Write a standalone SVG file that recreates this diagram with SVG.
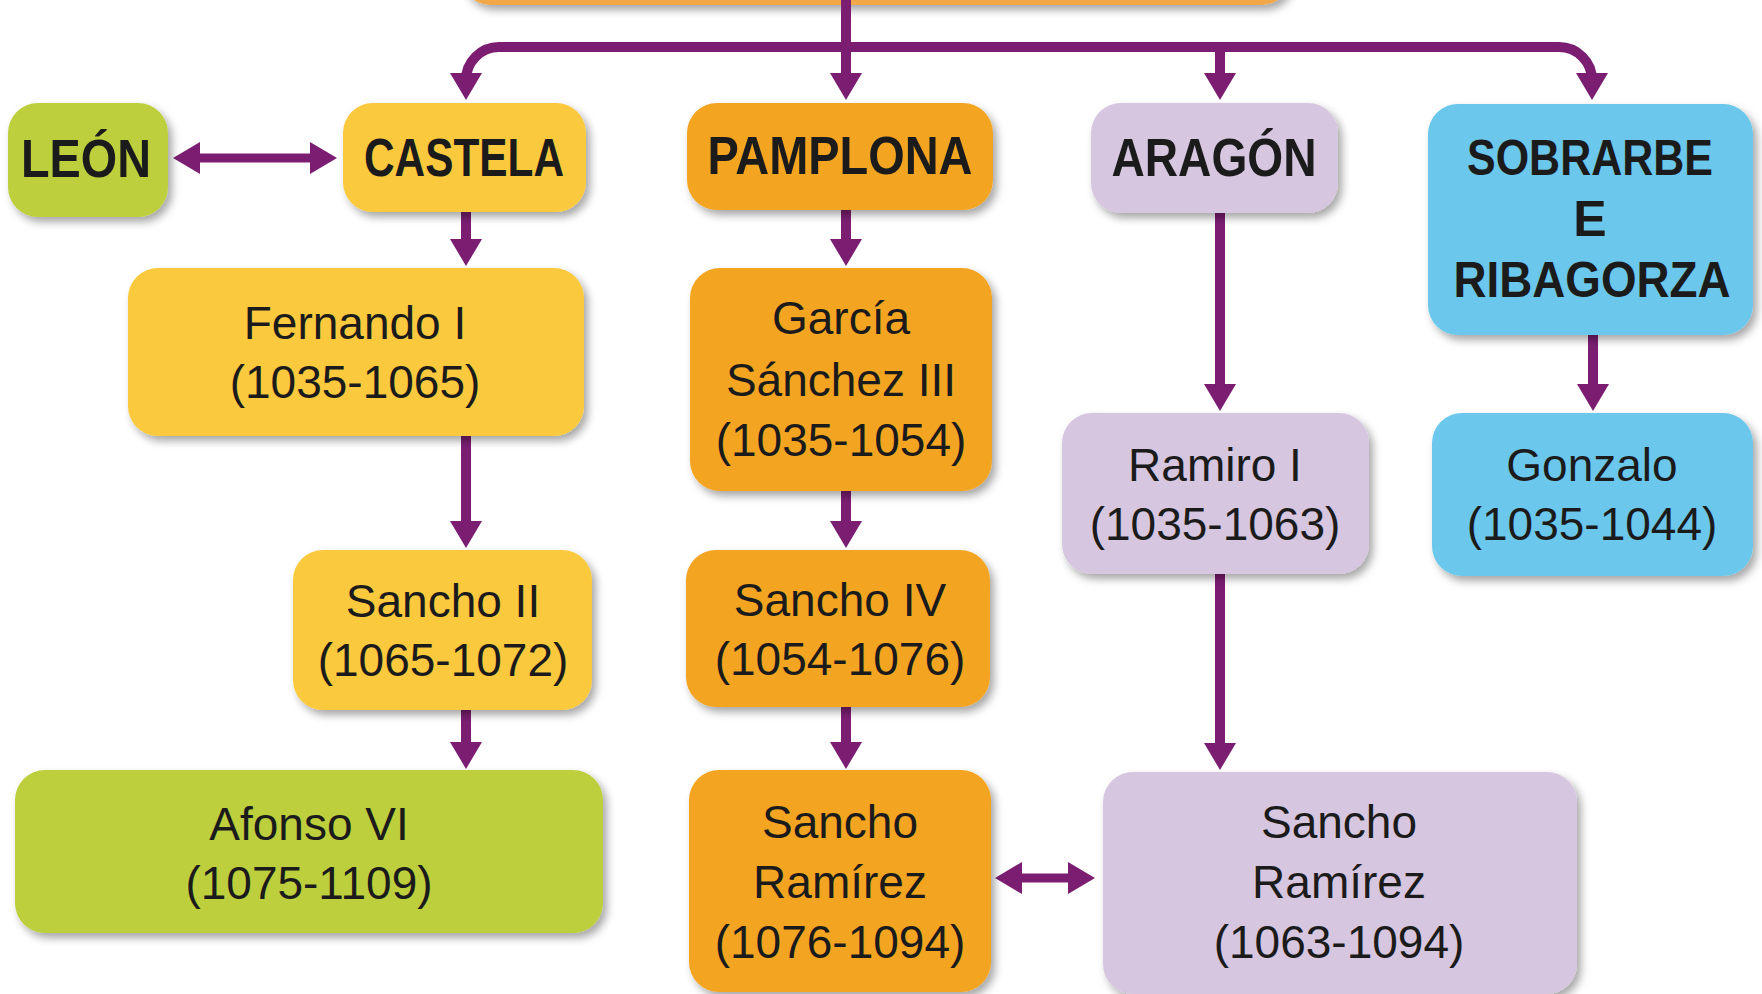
<svg xmlns="http://www.w3.org/2000/svg" width="1762" height="994" viewBox="0 0 1762 994">
<style>
.b{font-family:"Liberation Sans",Arial,sans-serif;font-weight:bold;font-size:53px;fill:#1b1b1b;text-anchor:middle}
.s{font-size:50px}
.r{font-family:"Liberation Sans",Arial,sans-serif;font-size:46px;fill:#1b1b1b;text-anchor:middle}
.c{fill:none;stroke:#7B1E72;stroke-width:10}
.bx{filter:url(#sh)}
.green{fill:#BDCF3C}.yellow{fill:#FBC93E}.orange{fill:#F3A523}.lav{fill:#D6C6E0}.blue{fill:#6CC7EC}
</style>
<defs>
<filter id="sh" x="-10%" y="-10%" width="125%" height="130%">
<feDropShadow dx="4" dy="5" stdDeviation="4" flood-color="#000" flood-opacity="0.35"/>
</filter>
<marker id="ah" markerUnits="userSpaceOnUse" markerWidth="28" markerHeight="34" viewBox="0 0 28 34" refX="7" refY="17" orient="auto-start-reverse">
<path d="M0,1 L27,17 L0,33 Z" fill="#7B1E72"/>
</marker>
</defs>
<rect width="1762" height="994" fill="#fff"/>

<g id="top-node"><rect class="bx" x="462" y="-60" width="828" height="65" rx="28" fill="#F2A84A"/></g>

<g id="connectors">
<path class="c" d="M846 0 V80" marker-end="url(#ah)"/>
<path class="c" d="M846 47 H499 A33 33 0 0 0 466 80" marker-end="url(#ah)"/>
<path class="c" d="M846 47 H1559 A33 33 0 0 1 1592 80" marker-end="url(#ah)"/>
<path class="c" d="M1220 47 V80" marker-end="url(#ah)"/>
<path class="c" style="stroke-width:9" d="M193 158 H317" marker-start="url(#ah)" marker-end="url(#ah)"/>
<path class="c" d="M466 212 V246" marker-end="url(#ah)"/>
<path class="c" d="M466 436 V528" marker-end="url(#ah)"/>
<path class="c" d="M466 710 V749" marker-end="url(#ah)"/>
<path class="c" d="M846 210 V246" marker-end="url(#ah)"/>
<path class="c" d="M846 491 V528" marker-end="url(#ah)"/>
<path class="c" d="M846 707 V749" marker-end="url(#ah)"/>
<path class="c" d="M1220 213 V391" marker-end="url(#ah)"/>
<path class="c" d="M1220 574 V750" marker-end="url(#ah)"/>
<path class="c" d="M1593 335 V391" marker-end="url(#ah)"/>
<path class="c" style="stroke-width:9" d="M1015 878 H1075" marker-start="url(#ah)" marker-end="url(#ah)"/>
</g>

<g id="leon"><rect class="bx green" x="8" y="103" width="160" height="114" rx="30"/>
<text class="b" x="86" y="177" textLength="130" lengthAdjust="spacingAndGlyphs">LEÓN</text></g>

<g id="castela"><rect class="bx yellow" x="343" y="103" width="243" height="109" rx="30"/>
<text class="b" x="464" y="176" textLength="200" lengthAdjust="spacingAndGlyphs">CASTELA</text></g>

<g id="pamplona"><rect class="bx orange" x="687" y="103" width="306" height="107" rx="30"/>
<text class="b" x="840" y="174" textLength="265" lengthAdjust="spacingAndGlyphs">PAMPLONA</text></g>

<g id="aragon"><rect class="bx lav" x="1091" y="103" width="247" height="110" rx="30"/>
<text class="b" x="1214" y="176" textLength="205" lengthAdjust="spacingAndGlyphs">ARAGÓN</text></g>

<g id="sobrarbe"><rect class="bx blue" x="1428" y="104" width="325" height="231" rx="30"/>
<text class="b s" x="1590" y="175" textLength="246" lengthAdjust="spacingAndGlyphs">SOBRARBE</text>
<text class="b s" x="1590" y="236">E</text>
<text class="b s" x="1592" y="297" textLength="277" lengthAdjust="spacingAndGlyphs">RIBAGORZA</text></g>

<g id="fernando"><rect class="bx yellow" x="128" y="268" width="456" height="168" rx="30"/>
<text class="r" x="355" y="339">Fernando I</text>
<text class="r" x="355" y="398">(1035-1065)</text></g>

<g id="garcia"><rect class="bx orange" x="690" y="268" width="302" height="223" rx="30"/>
<text class="r" x="841" y="334">García</text>
<text class="r" x="841" y="396">Sánchez III</text>
<text class="r" x="841" y="456">(1035-1054)</text></g>

<g id="ramiro"><rect class="bx lav" x="1062" y="413" width="307" height="161" rx="30"/>
<text class="r" x="1215" y="481">Ramiro I</text>
<text class="r" x="1215" y="540">(1035-1063)</text></g>

<g id="gonzalo"><rect class="bx blue" x="1432" y="413" width="321" height="163" rx="30"/>
<text class="r" x="1592" y="481">Gonzalo</text>
<text class="r" x="1592" y="540">(1035-1044)</text></g>

<g id="sancho2"><rect class="bx yellow" x="293" y="550" width="299" height="160" rx="30"/>
<text class="r" x="443" y="617">Sancho II</text>
<text class="r" x="443" y="676">(1065-1072)</text></g>

<g id="sancho4"><rect class="bx orange" x="686" y="550" width="304" height="157" rx="30"/>
<text class="r" x="840" y="616">Sancho IV</text>
<text class="r" x="840" y="675">(1054-1076)</text></g>

<g id="afonso"><rect class="bx green" x="15" y="770" width="588" height="163" rx="30"/>
<text class="r" x="309" y="840">Afonso VI</text>
<text class="r" x="309" y="899">(1075-1109)</text></g>

<g id="sancho-ramirez-p"><rect class="bx orange" x="689" y="770" width="302" height="222" rx="30"/>
<text class="r" x="840" y="838">Sancho</text>
<text class="r" x="840" y="898">Ramírez</text>
<text class="r" x="840" y="958">(1076-1094)</text></g>

<g id="sancho-ramirez-a"><rect class="bx lav" x="1103" y="772" width="474" height="222" rx="30"/>
<text class="r" x="1339" y="838">Sancho</text>
<text class="r" x="1339" y="898">Ramírez</text>
<text class="r" x="1339" y="958">(1063-1094)</text></g>
</svg>
